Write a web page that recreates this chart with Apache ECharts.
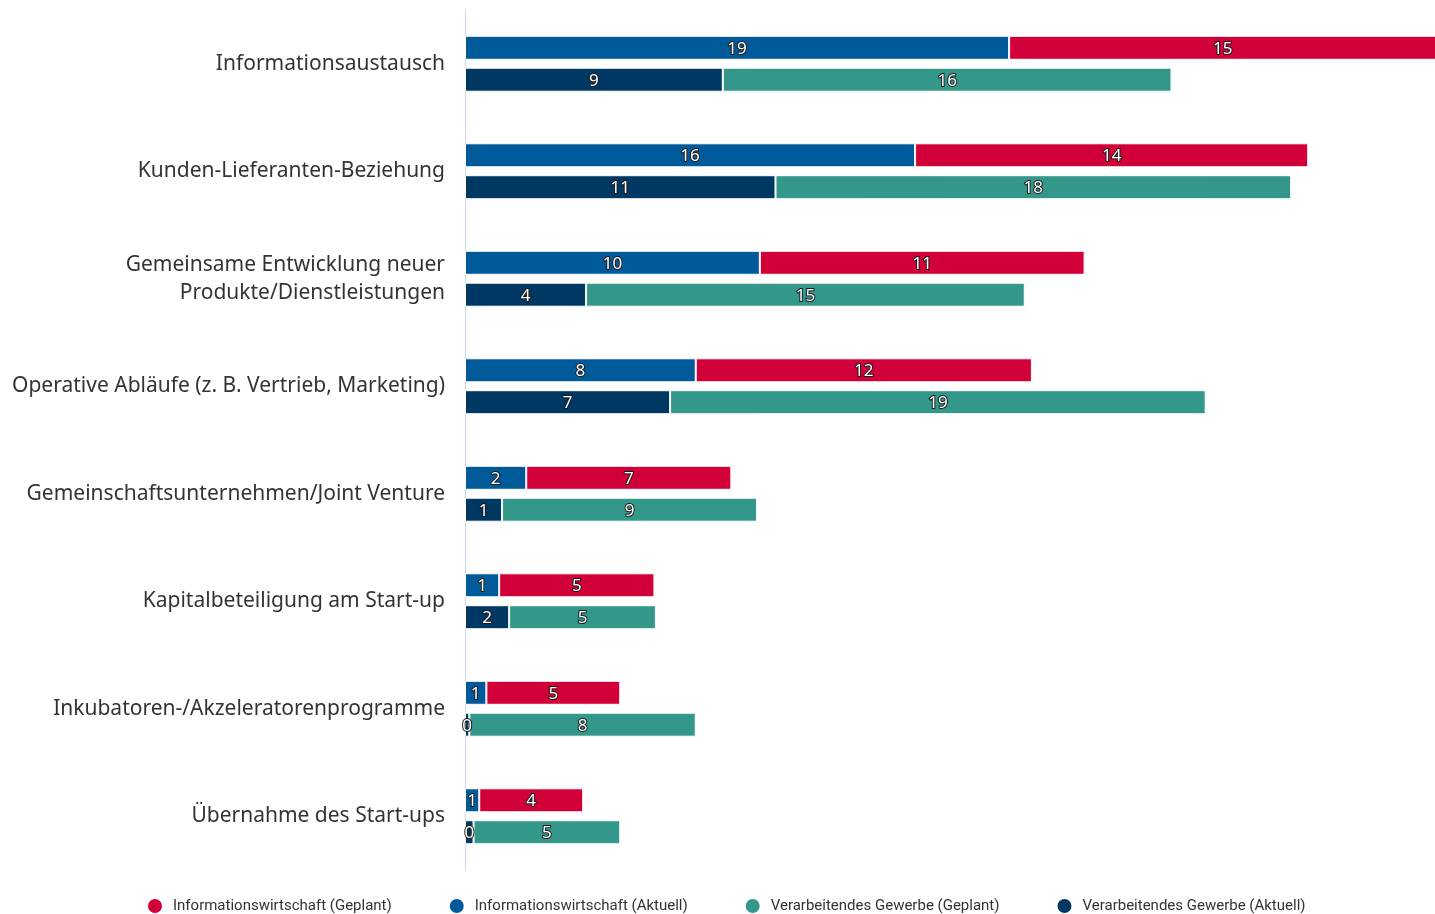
<!DOCTYPE html>
<html>
<head>
<meta charset="utf-8">
<script src="https://cdn.jsdelivr.net/npm/echarts@6/dist/echarts.min.js"></script>
<style>
  html, body { margin: 0; padding: 0; background: #fff; }
  #main { width: 1435px; height: 914px; }
</style>
</head>
<body>
<div id="main"></div>
<script>
// Kategorien (von oben nach unten)
const categories = [
  'Informationsaustausch',
  'Kunden-Lieferanten-Beziehung',
  'Gemeinsame Entwicklung neuer\nProdukte/Dienstleistungen',
  'Operative Abläufe (z. B. Vertrieb, Marketing)',
  'Gemeinschaftsunternehmen/Joint Venture',
  'Kapitalbeteiligung am Start-up',
  'Inkubatoren-/Akzeleratorenprogramme',
  'Übernahme des Start-ups'
];

// Werte
const iwAktuell = [19.1, 15.8, 10.35, 8.1, 2.15, 1.2, 0.75, 0.5];
const iwGeplant = [15.0, 13.8, 11.4, 11.8, 7.2, 5.45, 4.7, 3.65];
const vgAktuell = [9.05, 10.9, 4.25, 7.2, 1.3, 1.55, 0.15, 0.3];
const vgGeplant = [15.75, 18.1, 15.4, 18.8, 8.95, 5.15, 7.95, 5.15];

const colors = {
  iwAktuell: '#005a9a',
  iwGeplant: '#d10039',
  vgAktuell: '#003864',
  vgGeplant: '#33978a'
};

const barLabel = {
  show: true,
  position: 'inside',
  color: '#fff',
  fontSize: 17,
  fontFamily: '"Noto Sans", sans-serif',
  textBorderColor: '#1a1a1a',
  textBorderWidth: 2,
  offset: [0, 1],
  formatter: p => Math.round(p.value)
};

const mkSeries = (name, stack, data, color) => ({
  name: name,
  type: 'bar',
  stack: stack,
  data: data,
  barWidth: 24,
  barGap: '33%',
  itemStyle: { color: color, borderColor: '#fff', borderWidth: 1 },
  label: barLabel,
  clip: false
});

let myChart = echarts.init(document.getElementById('main'));
myChart.setOption({
  animation: false,
  grid: { left: 465, right: 0, top: 10, bottom: 44 },
  legend: {
    bottom: -1,
    left: 146,
    padding: 0,
    icon: 'circle',
    itemWidth: 16,
    itemHeight: 16,
    itemGap: 56,
    textStyle: {
      fontSize: 15,
      color: '#333',
      padding: [0, 0, 0, 5],
      fontFamily: '"Liberation Sans Narrow", "Roboto", sans-serif'
    },
    data: [
      'Informationswirtschaft (Geplant)',
      'Informationswirtschaft (Aktuell)',
      'Verarbeitendes Gewerbe (Geplant)',
      'Verarbeitendes Gewerbe (Aktuell)'
    ]
  },
  xAxis: {
    type: 'value',
    min: 0,
    max: 34.05,
    show: false,
    splitLine: { show: false }
  },
  yAxis: {
    type: 'category',
    data: categories,
    inverse: true,
    axisLine: { show: true, lineStyle: { color: '#ccd6eb', width: 1 } },
    axisTick: { show: false },
    axisLabel: {
      margin: 20,
      fontSize: 21,
      lineHeight: 28,
      color: '#333',
      padding: [4, 0, 0, 0],
      fontFamily: '"Noto Sans", sans-serif',
      align: 'right'
    }
  },
  series: [
    mkSeries('Informationswirtschaft (Aktuell)', 'iw', iwAktuell, colors.iwAktuell),
    mkSeries('Informationswirtschaft (Geplant)', 'iw', iwGeplant, colors.iwGeplant),
    mkSeries('Verarbeitendes Gewerbe (Aktuell)', 'vg', vgAktuell, colors.vgAktuell),
    mkSeries('Verarbeitendes Gewerbe (Geplant)', 'vg', vgGeplant, colors.vgGeplant)
  ]
});

window.addEventListener('resize', () => {
  myChart.resize();
});
</script>
</body>
</html>
